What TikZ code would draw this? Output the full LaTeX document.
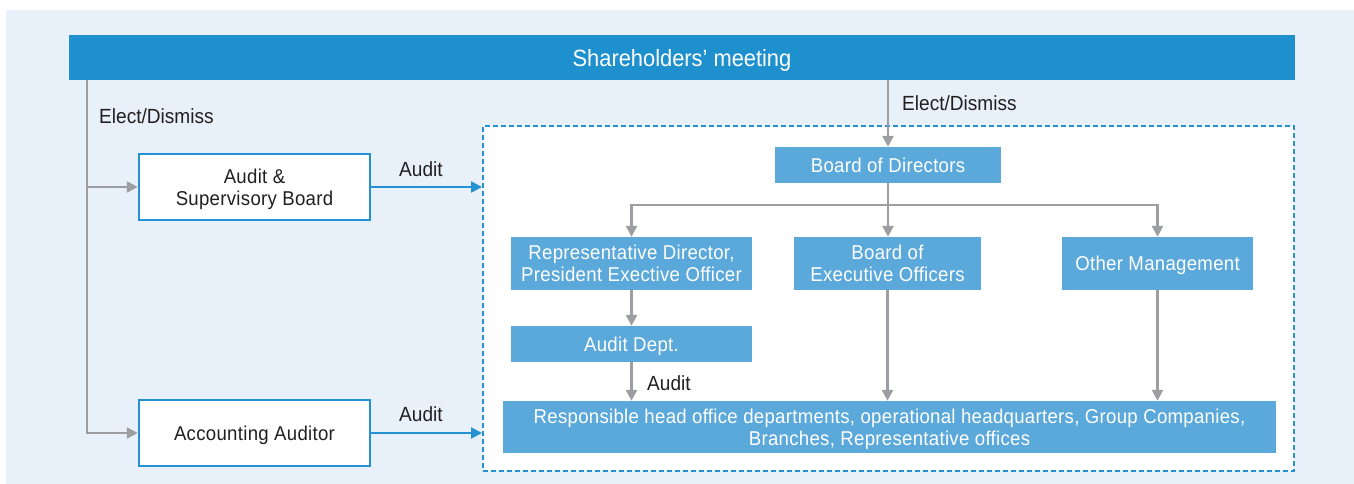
\documentclass[tikz,border=0pt]{standalone}
\usepackage{fontspec}
\setmainfont{Liberation Sans}[FakeStretch=0.93]
\newfontfamily\boxfont{Liberation Sans}[FakeStretch=0.93, LetterSpace=1.5]
\usetikzlibrary{arrows.meta,calc}
\definecolor{bgc}{HTML}{E8F0F9}
\definecolor{titlec}{HTML}{1E90CE}
\definecolor{boxc}{HTML}{5BA8DB}
\definecolor{grayc}{HTML}{9C9EA1}
\definecolor{txtc}{HTML}{231F20}
\definecolor{bluec}{HTML}{2391D2}
\tikzset{
  bluebox/.style={rectangle, fill=boxc, text=white, inner sep=0pt, text depth=0pt, align=center, font=\boxfont\fontsize{20}{22}\selectfont},
  whitebox/.style={rectangle, fill=white, draw=bluec, line width=2.5pt, text=txtc, inner sep=0pt, text depth=0pt, align=center, font=\boxfont\fontsize{20}{22}\selectfont},
  lbl/.style={text=txtc, inner sep=0pt, anchor=west, font=\fontsize{20.5}{24}\selectfont},
  gline/.style={draw=grayc, line width=2.5pt},
  garrow/.style={gline, -{Triangle[width=11pt,length=11pt]}},
  barrow/.style={draw=bluec, line width=2.5pt, -{Triangle[width=11pt,length=11pt]}},
}
\begin{document}
\begin{tikzpicture}[x=1pt,y=-1pt]
\useasboundingbox (0,0) rectangle (1354,484);
\fill[white] (0,0) rectangle (1354,484);
\fill[bgc] (6,10) rectangle (1354,484);

% title bar
\node[rectangle, fill=titlec, text=white, inner sep=0pt, minimum width=1226pt, minimum height=45pt,
  text depth=0pt, font=\fontsize{23.5}{28}\selectfont] (sh) at (682,57.5) {Shareholders’ meeting};

% dashed group
\node[rectangle, fill=white, draw=bluec, line width=2pt, dash pattern=on 5pt off 3pt,
  minimum width=811pt, minimum height=345pt, inner sep=0pt] (grp) at (888.5,298.5) {};

% left boxes
\node[whitebox, minimum width=231pt, minimum height=66pt] (ab) at (254.5,187) {Audit \&\\Supervisory Board};
\node[whitebox, minimum width=231pt, minimum height=66pt] (acc) at (254.5,433) {Accounting Auditor};

% inner boxes
\node[bluebox, minimum width=226pt, minimum height=36pt] (bod) at (888,165) {Board of Directors};
\node[bluebox, minimum width=241pt, minimum height=53pt] (rep) at (631.5,263.5) {Representative Director,\\President Exective Officer};
\node[bluebox, minimum width=187pt, minimum height=53pt] (beo) at (887.5,263.5) {Board of\\Executive Officers};
\node[bluebox, minimum width=191pt, minimum height=53pt] (oth) at (1157.5,263.5) {Other Management};
\node[bluebox, minimum width=241pt, minimum height=36pt] (aud) at (631.5,344) {Audit Dept.};
\node[bluebox, minimum width=773pt, minimum height=52pt] (resp) at (889.5,427) {Responsible head office departments, operational headquarters, Group Companies,\\Branches, Representative offices};

% left elect/dismiss line
\coordinate (L) at (87,0);
\draw[garrow] (sh.south -| L) |- (acc.west);
\draw[garrow] (ab.west -| L) -- (ab.west);
\node[lbl] (ed1) at (99,116) {Elect/Dismiss};

% center elect/dismiss
\draw[garrow] (sh.south -| bod.north) -- (bod.north);
\node[lbl] (ed2) at (902,103) {Elect/Dismiss};

% audit arrows
\draw[barrow] (ab.east) -- (ab.east -| grp.west);
\node[lbl] (a1) at (399,169) {Audit};
\draw[barrow] (acc.east) -- (acc.east -| grp.west);
\node[lbl] (a2) at (399,414) {Audit};

% board of directors branches
\coordinate (J) at (0,205);
\draw[gline] (bod.south) -- (bod.south |- J);
\draw[garrow] (bod.south |- J) -| (rep.north);
\draw[garrow] (bod.south |- J) -| (oth.north);
\draw[garrow] (bod.south) -- (bod.south |- beo.north);

% downward arrows
\draw[garrow] (rep.south) -- (aud.north);
\draw[garrow] (aud.south) -- (aud.south |- resp.north);
\node[lbl] (a3) at (647,383) {Audit};
\draw[garrow] (beo.south) -- (beo.south |- resp.north);
\draw[garrow] (oth.south) -- (oth.south |- resp.north);
\end{tikzpicture}
\end{document}
